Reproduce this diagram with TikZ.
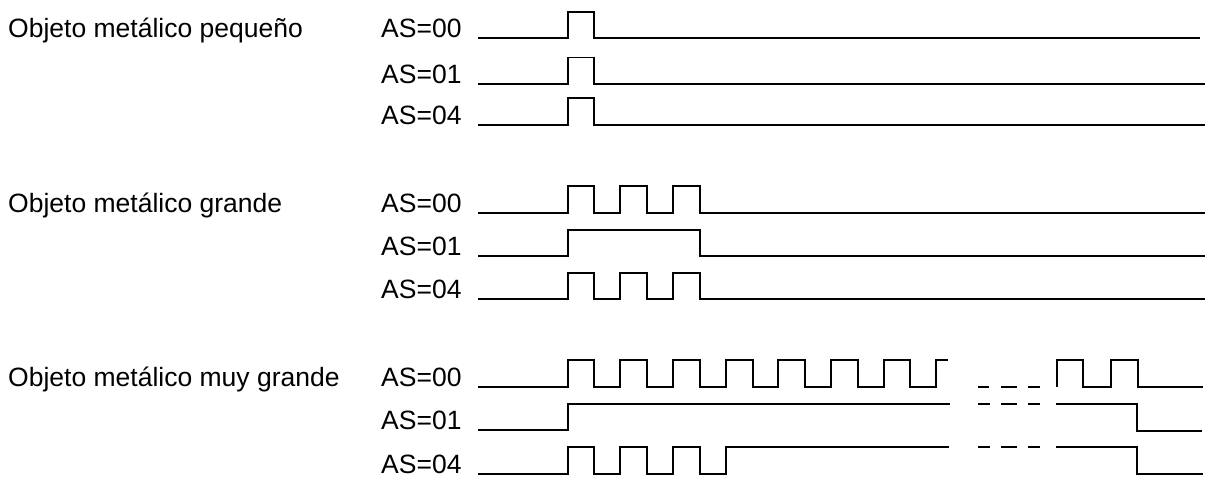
\documentclass[tikz,border=0pt]{standalone}
\usepackage{fontspec}
\setmainfont{Liberation Sans}
\begin{document}
\begin{tikzpicture}[x=1pt,y=-1pt,
  sig/.style={line width=1.8pt, line join=miter},
  lbl/.style={anchor=base west, inner sep=0pt, font=\fontsize{26.5}{31}\selectfont},
  grp/.style={anchor=base west, inner sep=0pt, font=\fontsize{26.5}{31}\selectfont}]
\useasboundingbox (0,0) rectangle (1210,477);

% ---------- Group 1 ----------
\node[grp] (g1) at (8,37) {Objeto metálico pequeño};
\node[lbl] (g1a) at (381,37) {AS=00};
\node[lbl] (g1b) at (381,83) {AS=01};
\node[lbl] (g1c) at (381,124) {AS=04};

\draw[sig] (478,37.7) -- (568,37.7) -- (568,12) -- (594,12) -- (594,37.7) -- (1200,37.7);
\draw[sig] (478,83.7) -- (568,83.7) -- (568,57.5) -- (594,57.5) -- (594,83.7) -- (1205,83.7);
\draw[sig] (478,125.3) -- (568,125.3) -- (568,98) -- (594,98) -- (594,125.3) -- (1205,125.3);

% ---------- Group 2 ----------
\node[grp] (g2) at (8,212) {Objeto metálico grande};
\node[lbl] (g2a) at (381,212) {AS=00};
\node[lbl] (g2b) at (381,255) {AS=01};
\node[lbl] (g2c) at (381,298.5) {AS=04};

\draw[sig] (478,212.7) -- (568,212.7) -- (568,186) -- (594,186) -- (594,212.7)
  -- (620,212.7) -- (620,186) -- (647,186) -- (647,212.7)
  -- (673,212.7) -- (673,186) -- (700,186) -- (700,212.7) -- (1205,212.7);
\draw[sig] (478,255.7) -- (568,255.7) -- (568,230) -- (700,230) -- (700,255.7) -- (1205,255.7);
\draw[sig] (478,299.3) -- (568,299.3) -- (568,273.3) -- (594,273.3) -- (594,299.3)
  -- (620,299.3) -- (620,273.3) -- (647,273.3) -- (647,299.3)
  -- (673,299.3) -- (673,273.3) -- (700,273.3) -- (700,299.3) -- (1205,299.3);

% ---------- Group 3 ----------
\node[grp] (g3) at (8,386) {Objeto metálico muy grande};
\node[lbl] (g3a) at (381,386) {AS=00};
\node[lbl] (g3b) at (381,429.5) {AS=01};
\node[lbl] (g3c) at (381,473) {AS=04};

% AS=00
\draw[sig] (478,386.7) -- (568,386.7) -- (568,360) -- (594,360) -- (594,386.7)
  -- (620,386.7) -- (620,360) -- (647,360) -- (647,386.7)
  -- (673,386.7) -- (673,360) -- (700,360) -- (700,386.7)
  -- (726,386.7) -- (726,360) -- (753,360) -- (753,386.7)
  -- (778,386.7) -- (778,360) -- (805,360) -- (805,386.7)
  -- (831,386.7) -- (831,360) -- (858,360) -- (858,386.7)
  -- (884,386.7) -- (884,360) -- (910,360) -- (910,386.7)
  -- (936,386.7) -- (936,360) -- (948,360);
\draw[sig] (978,386.7) -- (989,386.7);
\draw[sig] (1001,386.7) -- (1017,386.7);
\draw[sig] (1028,386.7) -- (1040,386.7);
\draw[sig] (1057,386.7) -- (1057,360) -- (1083,360) -- (1083,386.7)
  -- (1111,386.7) -- (1111,360) -- (1138,360) -- (1138,386.7) -- (1203,386.7);

% AS=01
\draw[sig] (478,430) -- (568,430) -- (568,404) -- (950,404);
\draw[sig] (978,404) -- (990,404);
\draw[sig] (1001,404) -- (1017,404);
\draw[sig] (1028,404) -- (1040,404);
\draw[sig] (1056,404) -- (1137,404) -- (1137,430.7) -- (1202,430.7);

% AS=04
\draw[sig] (478,474) -- (568,474) -- (568,447.3) -- (594,447.3) -- (594,474)
  -- (620,474) -- (620,447.3) -- (647,447.3) -- (647,474)
  -- (673,474) -- (673,447.3) -- (700,447.3) -- (700,474)
  -- (726,474) -- (726,447.3) -- (949,447.3);
\draw[sig] (978,447.3) -- (990,447.3);
\draw[sig] (1001,447.3) -- (1017,447.3);
\draw[sig] (1028,447.3) -- (1040,447.3);
\draw[sig] (1056,447.3) -- (1137,447.3) -- (1137,474) -- (1203,474);
\end{tikzpicture}
\end{document}
